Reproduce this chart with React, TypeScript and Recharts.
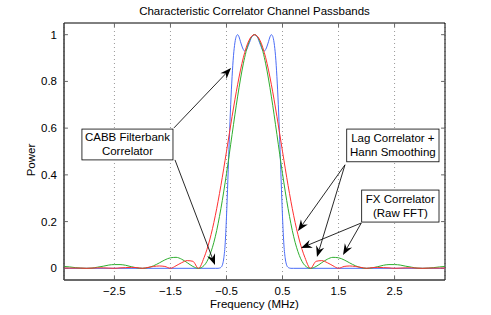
import React from 'react';
import { LineChart, Line, XAxis, YAxis, CartesianGrid, ReferenceLine, ReferenceArea } from 'recharts';

// frequency grid for the FX and lag curves (MHz)
const freq = [
  -3.4, -3.3, -3.2, -3.1, -3.0, -2.9, -2.8, -2.7, -2.6, -2.5, -2.4, -2.3, -2.2, -2.1, -2.0,
  -1.9, -1.8, -1.7, -1.6, -1.5, -1.4, -1.3, -1.2, -1.1, -1.0, -0.9, -0.8, -0.7, -0.6, -0.5,
  -0.4, -0.3, -0.2, -0.1, 0, 0.1, 0.2, 0.3, 0.4, 0.5, 0.6, 0.7, 0.8, 0.9, 1.0,
  1.1, 1.2, 1.3, 1.4, 1.5, 1.6, 1.7, 1.8, 1.9, 2.0, 2.1, 2.2, 2.3, 2.4, 2.5,
  2.6, 2.7, 2.8, 2.9, 3.0, 3.1, 3.2, 3.3, 3.4,
];

// FX correlator (raw FFT) - green
const fxPower = [
  0.008, 0.006, 0.003, 0.001, 0, 0.001, 0.005, 0.009, 0.014, 0.016, 0.016, 0.013, 0.007, 0.002, 0,
  0.003, 0.011, 0.023, 0.036, 0.045, 0.047, 0.039, 0.024, 0.008, 0, 0.012, 0.055, 0.135, 0.255, 0.405,
  0.573, 0.737, 0.875, 0.968, 1.0, 0.968, 0.875, 0.737, 0.573, 0.405, 0.255, 0.135, 0.055, 0.012, 0,
  0.008, 0.024, 0.039, 0.047, 0.045, 0.036, 0.023, 0.011, 0.003, 0, 0.002, 0.007, 0.013, 0.016, 0.016,
  0.014, 0.009, 0.005, 0.001, 0, 0.001, 0.003, 0.006, 0.008,
];

// Lag correlator + Hann smoothing - red
const lagPower = [
  0.001, 0.001, 0.001, 0.001, 0, 0.001, 0.002, 0.002, 0.001, 0, 0.002, 0.003, 0.004, 0.003, 0,
  0.004, 0.008, 0.01, 0.008, 0, 0.011, 0.024, 0.033, 0.03, 0, 0.046, 0.121, 0.225, 0.354, 0.5,
  0.65, 0.788, 0.901, 0.975, 1.0, 0.975, 0.901, 0.788, 0.65, 0.5, 0.354, 0.225, 0.121, 0.046, 0,
  0.03, 0.033, 0.024, 0.011, 0, 0.008, 0.01, 0.008, 0.004, 0, 0.003, 0.004, 0.003, 0.002, 0,
  0.001, 0.002, 0.002, 0.001, 0, 0.001, 0.001, 0.001, 0.001,
];

// CABB filterbank - blue
const cabbFreq = [
  -3.4, -0.7, -0.65, -0.625, -0.6, -0.575, -0.55, -0.525, -0.5, -0.475, -0.45, -0.425, -0.4,
  -0.375, -0.35, -0.325, -0.3, -0.275, -0.25, -0.2, -0.175, -0.15, -0.1, -0.05, 0,
  0.05, 0.1, 0.15, 0.175, 0.2, 0.25, 0.275, 0.3, 0.325, 0.35, 0.375, 0.4,
  0.425, 0.45, 0.475, 0.5, 0.525, 0.55, 0.575, 0.6, 0.625, 0.65, 0.7, 3.4,
];
const cabbPower = [
  0, 0, 0, 0.001, 0.004, 0.013, 0.04, 0.1, 0.22, 0.38, 0.55, 0.7, 0.82,
  0.91, 0.965, 0.993, 1.0, 0.99, 0.97, 0.937, 0.93, 0.933, 0.96, 0.99, 1.0,
  0.99, 0.96, 0.933, 0.93, 0.937, 0.97, 0.99, 1.0, 0.993, 0.965, 0.91, 0.82,
  0.7, 0.55, 0.38, 0.22, 0.1, 0.04, 0.013, 0.004, 0.001, 0, 0, 0,
];

const xTicks = [-2.5, -1.5, -0.5, 0.5, 1.5, 2.5];
const yTicks = [0, 0.2, 0.4, 0.6, 0.8, 1];

const boxes = [
  { x1: -3.08, x2: -1.455, y1: 0.464, y2: 0.596, lines: ['CABB Filterbank', 'Correlator'] },
  { x1: 1.646, x2: 3.293, y1: 0.456, y2: 0.596, lines: ['Lag Correlator +', 'Hann Smoothing'] },
  { x1: 1.913, x2: 3.293, y1: 0.198, y2: 0.335, lines: ['FX Correlator', '(Raw FFT)'] },
];

const arrows = [
  { from: [-1.437, 0.601], to: [-0.419, 0.857] },
  { from: [-1.419, 0.464], to: [-0.705, 0.014] },
  { from: [1.615, 0.443], to: [0.776, 0.16] },
  { from: [1.615, 0.443], to: [1.115, 0.048] },
  { from: [1.906, 0.194], to: [0.83, 0.087] },
  { from: [1.906, 0.194], to: [1.58, 0.057] },
];

const FONT = '"Liberation Sans", Arial, Helvetica, sans-serif';
const X_DOMAIN: [number, number] = [-3.4, 3.4];
const Y_DOMAIN: [number, number] = [-0.05, 1.05];
const TICK_DX = 0.07;
const TICK_DY = 0.017;

const fxData = freq.map((f, i) => ({ f, p: fxPower[i] }));
const lagData = freq.map((f, i) => ({ f, p: lagPower[i] }));
const cabbData = cabbFreq.map((f, i) => ({ f, p: cabbPower[i] }));

const fmt = (v: number) => (v < 0 ? '\u2212' + Math.abs(v) : String(v));

const Arrow = (props: any) => {
  const { x1, y1, x2, y2 } = props;
  const dx = x2 - x1;
  const dy = y2 - y1;
  const len = Math.hypot(dx, dy) || 1;
  const ux = dx / len;
  const uy = dy / len;
  const px = -uy;
  const py = ux;
  const L = 11;
  const W = 4.2;
  const N = 7.5;
  const bx = x2 - ux * L;
  const by = y2 - uy * L;
  const nx = x2 - ux * N;
  const ny = y2 - uy * N;
  return (
    <g>
      <line x1={x1} y1={y1} x2={nx} y2={ny} stroke="#111" strokeWidth={0.9} />
      <polygon
        points={`${x2},${y2} ${bx + px * W},${by + py * W} ${nx},${ny} ${bx - px * W},${by - py * W}`}
        fill="#000"
      />
    </g>
  );
};

const TextBox = (lines: string[]) => (props: any) => {
  const { x, y, width, height } = props;
  const cx = x + width / 2;
  const cy = y + height / 2;
  return (
    <g>
      <rect x={x} y={y} width={width} height={height} fill="#fff" stroke="#000" strokeWidth={0.8} />
      {lines.map((t, i) => (
        <text
          key={t}
          x={cx}
          y={cy + (i - 0.5) * 14 + 4}
          textAnchor="middle"
          fontFamily={FONT}
          fontSize={11.5}
          fill="#000"
        >
          {t}
        </text>
      ))}
    </g>
  );
};

const App: React.FC = () => {
  return (
    <div style={{ position: 'absolute', left: 0, top: 0, width: 491, height: 315, background: '#fff' }}>
      <svg width={491} height={20} style={{ position: 'absolute', left: 0, top: 0 }}>
        <text x={254.5} y={14.5} textAnchor="middle" fontFamily={FONT} fontSize={11.5} fill="#000">
          Characteristic Correlator Channel Passbands
        </text>
      </svg>
      <div style={{ position: 'absolute', left: 0, top: 0 }}>
        <LineChart width={491} height={315} margin={{ top: 23, right: 46, bottom: 0, left: 0 }}>
          <CartesianGrid horizontal={false} stroke="#999" strokeDasharray="1 3" />
          <XAxis
            type="number"
            dataKey="f"
            domain={X_DOMAIN}
            ticks={xTicks}
            allowDataOverflow
            height={35}
            tickLine={false}
            tickSize={4}
            tickMargin={3}
            tickFormatter={fmt}
            axisLine={{ stroke: '#555' }}
            tick={{ fill: '#000', fontSize: 11.5, fontFamily: FONT }}
            label={{
              content: () => (
                <text x={254.5} y={307.5} textAnchor="middle" fontFamily={FONT} fontSize={11.5} fill="#000">
                  Frequency (MHz)
                </text>
              ),
            }}
          />
          <YAxis
            type="number"
            domain={Y_DOMAIN}
            ticks={yTicks}
            allowDataOverflow
            width={64}
            tickLine={false}
            tickSize={4}
            tickMargin={3}
            axisLine={{ stroke: '#555' }}
            tick={{ fill: '#000', fontSize: 11.5, fontFamily: FONT }}
            label={{
              content: () => (
                <text
                  x={31}
                  y={160}
                  transform="rotate(-90 31 160)"
                  textAnchor="middle"
                  dominantBaseline="central"
                  fontFamily={FONT}
                  fontSize={11.5}
                  fill="#000"
                >
                  Power
                </text>
              ),
            }}
          />
          <ReferenceArea
            x1={X_DOMAIN[0]}
            x2={X_DOMAIN[1]}
            y1={Y_DOMAIN[0]}
            y2={Y_DOMAIN[1]}
            fill="none"
            fillOpacity={0}
            stroke="#000"
            strokeWidth={1}
          />
          {xTicks.map((t) => (
            <ReferenceLine
              key={'xb' + t}
              segment={[{ x: t, y: Y_DOMAIN[0] }, { x: t, y: Y_DOMAIN[0] + TICK_DY }]}
              stroke="#666"
            />
          ))}
          {xTicks.map((t) => (
            <ReferenceLine
              key={'xt' + t}
              segment={[{ x: t, y: Y_DOMAIN[1] }, { x: t, y: Y_DOMAIN[1] - TICK_DY }]}
              stroke="#666"
            />
          ))}
          {yTicks.map((t) => (
            <ReferenceLine
              key={'yl' + t}
              segment={[{ x: X_DOMAIN[0], y: t }, { x: X_DOMAIN[0] + TICK_DX, y: t }]}
              stroke="#666"
            />
          ))}
          {yTicks.map((t) => (
            <ReferenceLine
              key={'yr' + t}
              segment={[{ x: X_DOMAIN[1], y: t }, { x: X_DOMAIN[1] - TICK_DX, y: t }]}
              stroke="#666"
            />
          ))}
          <Line
            data={cabbData}
            dataKey="p"
            type="monotone"
            stroke="#4a6cf7"
            strokeWidth={1}
            dot={false}
            isAnimationActive={false}
          />
          <Line
            data={fxData}
            dataKey="p"
            type="monotone"
            stroke="#2fae2f"
            strokeWidth={1}
            dot={false}
            isAnimationActive={false}
          />
          <Line
            data={lagData}
            dataKey="p"
            type="monotone"
            stroke="#ff3030"
            strokeWidth={1}
            dot={false}
            isAnimationActive={false}
          />
          {arrows.map((a, i) => (
            <ReferenceLine
              key={'ar' + i}
              segment={[{ x: a.from[0], y: a.from[1] }, { x: a.to[0], y: a.to[1] }]}
              shape={Arrow}
            />
          ))}
          {boxes.map((b) => (
            <ReferenceArea
              key={b.lines[0]}
              x1={b.x1}
              x2={b.x2}
              y1={b.y1}
              y2={b.y2}
              shape={TextBox(b.lines)}
            />
          ))}
        </LineChart>
      </div>
    </div>
  );
};

export default App;
